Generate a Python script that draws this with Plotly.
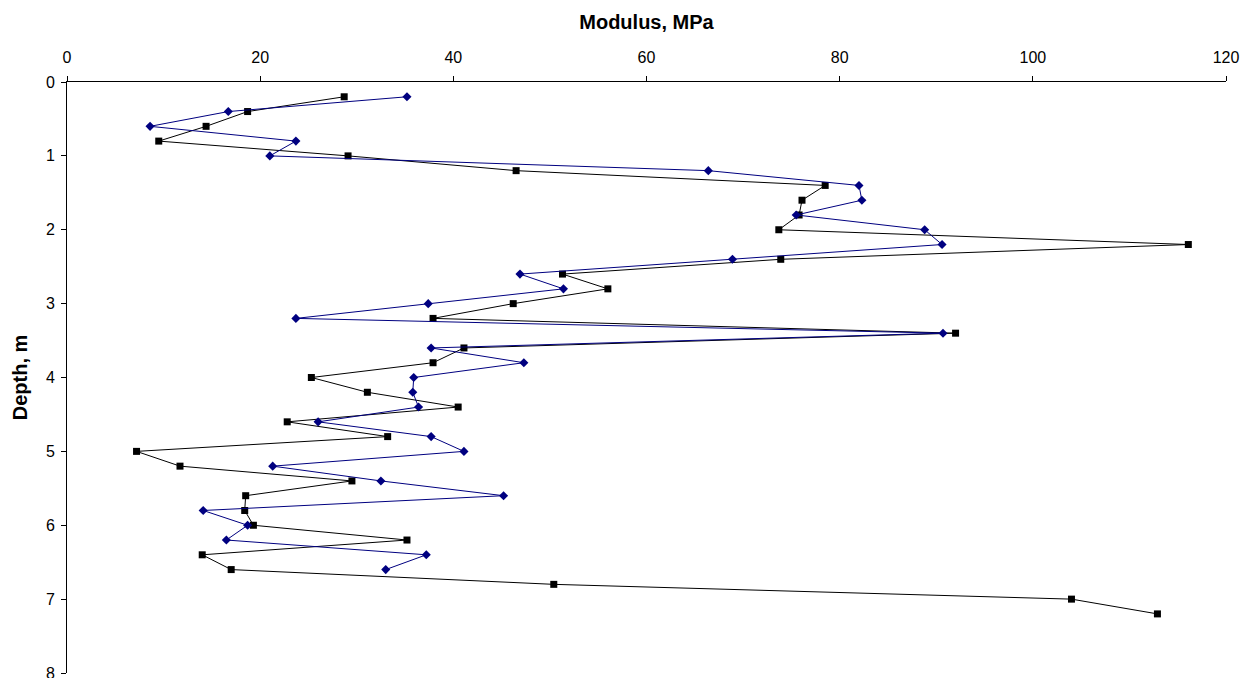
import plotly.graph_objects as go

depth_black = [0.2, 0.4, 0.6, 0.8, 1.0, 1.2, 1.4, 1.6, 1.8, 2.0, 2.2, 2.4, 2.6, 2.8, 3.0, 3.2, 3.4, 3.6,
               3.8, 4.0, 4.2, 4.4, 4.6, 4.8, 5.0, 5.2, 5.4, 5.6, 5.8, 6.0, 6.2, 6.4, 6.6, 6.8, 7.0, 7.2]
modulus_black = [28.7, 18.7, 14.4, 9.5, 29.1, 46.5, 78.5, 76.1, 75.8, 73.7, 116.1, 73.9, 51.3, 56.0, 46.2,
                 37.9, 92.0, 41.1, 37.9, 25.3, 31.1, 40.5, 22.8, 33.2, 7.2, 11.7, 29.5, 18.5, 18.4, 19.3,
                 35.2, 14.0, 17.0, 50.4, 104.0, 112.9]

depth_blue = [0.2, 0.4, 0.6, 0.8, 1.0, 1.2, 1.4, 1.6, 1.8, 2.0, 2.2, 2.4, 2.6, 2.8, 3.0, 3.2, 3.4, 3.6,
              3.8, 4.0, 4.2, 4.4, 4.6, 4.8, 5.0, 5.2, 5.4, 5.6, 5.8, 6.0, 6.2, 6.4, 6.6]
modulus_blue = [35.2, 16.7, 8.6, 23.7, 21.0, 66.4, 82.0, 82.3, 75.5, 88.8, 90.6, 68.9, 46.9, 51.4, 37.4,
                23.7, 90.7, 37.7, 47.3, 35.9, 35.8, 36.4, 26.0, 37.7, 41.1, 21.3, 32.5, 45.2, 14.1, 18.7,
                16.5, 37.2, 33.0]

x_ticks = [0, 20, 40, 60, 80, 100, 120]
y_ticks = [0, 1, 2, 3, 4, 5, 6, 7, 8]

fig = go.Figure()
fig.add_trace(go.Scatter(
    x=modulus_black, y=depth_black, mode="lines+markers",
    line=dict(color="black", width=1),
    marker=dict(symbol="square", size=7, color="black"),
    showlegend=False))
fig.add_trace(go.Scatter(
    x=modulus_blue, y=depth_blue, mode="lines+markers",
    line=dict(color="#000080", width=1),
    marker=dict(symbol="diamond", size=7, color="#000080"),
    showlegend=False))

font = "Liberation Sans, Arial, sans-serif"
fig.update_layout(
    width=1241, height=678,
    margin=dict(l=67, r=15, t=82, b=5),
    paper_bgcolor="white", plot_bgcolor="white",
    font=dict(family=font, size=16, color="black"),
    xaxis=dict(side="top", range=[0, 120], tickvals=x_ticks, showgrid=False, zeroline=False,
               showline=True, linecolor="black", linewidth=1, ticks="outside", ticklen=5,
               tickcolor="black", tickfont=dict(size=16), automargin=False,
               ticklabeloverflow="allow", ticklabelstandoff=7,
               title=dict(text="<b>Modulus, MPa</b>", font=dict(size=20), standoff=13)),
    yaxis=dict(range=[8, 0], tickvals=y_ticks, showgrid=False, zeroline=False,
               showline=True, linecolor="black", linewidth=1, ticks="outside", ticklen=5,
               tickcolor="black", tickfont=dict(size=16), automargin=False,
               ticklabeloverflow="allow", ticklabelstandoff=3,
               title=dict(text="<b>Depth, m</b>", font=dict(size=20), standoff=12)),
)

fig.write_html("out.html")
